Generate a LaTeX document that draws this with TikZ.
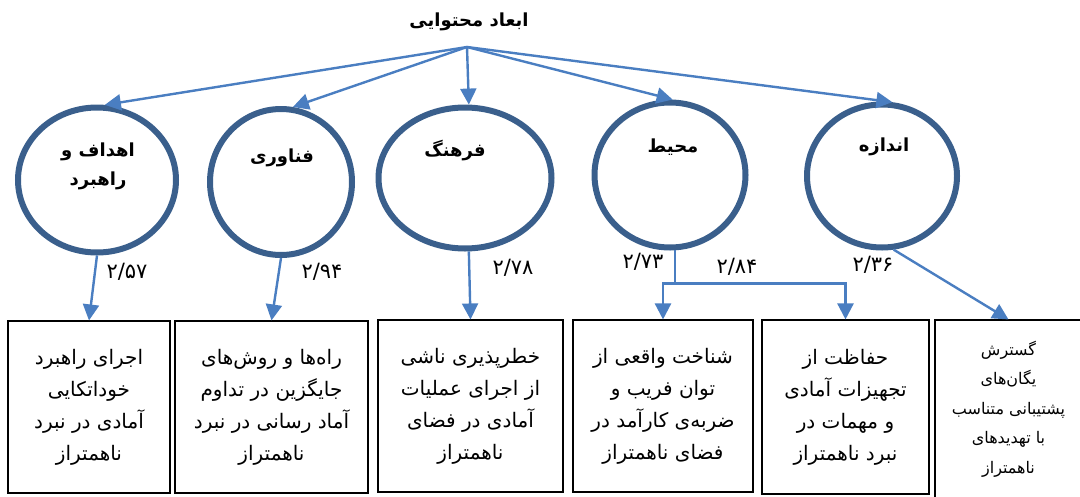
\documentclass[tikz,border=0pt]{standalone}
\usepackage{fontspec}
\newfontfamily\arabicfont[Script=Arabic]{DejaVu Sans}
\TeXXeTstate=1
\newcommand{\fa}[1]{\beginR #1\endR}
\usetikzlibrary{arrows.meta, shapes.geometric}
\definecolor{ringblue}{RGB}{58,95,140}
\definecolor{linkblue}{RGB}{74,126,193}

\begin{document}
\begin{tikzpicture}[x=1pt,y=-1pt,
    ring/.style={ellipse, draw=ringblue, line width=6pt, minimum height=145pt, inner sep=0pt},
    ringtext/.style={font=\arabicfont\bfseries\fontsize{18}{29}\selectfont, align=center},
    boxtext/.style={draw, line width=1.1pt, minimum height=172pt, inner sep=0pt, align=center,
        font=\arabicfont\fontsize{20}{32}\selectfont},
    value/.style={font=\arabicfont\fontsize{21}{22}\selectfont},
    line/.style={draw=linkblue, line width=2.4pt},
    link/.style={line, -{Triangle[length=16pt,width=16pt]}}]
    \useasboundingbox (0,0) rectangle (1080,496);
    % title
    \node[ringtext] (ttl) at (469,22) {\fa{ابعاد محتوایی}};
    \coordinate (hub) at (467,47);
    % circles
    \node[ring, minimum width=158pt] (c1) at (97,180) {};
    \node[ring, minimum width=142pt, minimum height=146pt] (c2) at (281,182) {};
    \node[ring, minimum width=173pt, minimum height=141pt] (c3) at (465,178) {};
    \node[ring, minimum width=151pt] (c4) at (670,175) {};
    \node[ring, minimum width=150pt, minimum height=143pt] (c5) at (882,176) {};
    \node[ringtext] (t1) at (98,166) {\fa{اهداف و}\\\fa{راهبرد}};
    \node[ringtext] (t2) at (282,158) {\fa{فناوری}};
    \node[ringtext] (t3) at (455,151) {\fa{فرهنگ}};
    \node[ringtext] (t4) at (673,147) {\fa{محیط}};
    \node[ringtext] (t5) at (884,147) {\fa{اندازه}};
    % boxes
    \node[boxtext, minimum width=162pt] (b1) at (89,407)
        {\fa{اجرای راهبرد}\\\fa{خوداتکایی}\\\fa{آمادی در نبرد}\\\fa{ناهمتراز}};
    \node[boxtext, minimum width=193pt] (b2) at (271.5,407)
        {\fa{راه‌ها و روش‌های}\\\fa{جایگزین در تداوم}\\\fa{آماد رسانی در نبرد}\\\fa{ناهمتراز}};
    \node[boxtext, minimum width=185pt] (b3) at (470.5,406)
        {\fa{خطرپذیری ناشی}\\\fa{از اجرای عملیات}\\\fa{آمادی در فضای}\\\fa{ناهمتراز}};
    \node[boxtext, minimum width=180pt] (b4) at (663,406)
        {\fa{شناخت واقعی از}\\\fa{توان فریب و}\\\fa{ضربه‌ی کارآمد در}\\\fa{فضای ناهمتراز}};
    \node[boxtext, minimum width=167pt, minimum height=174pt] (b5) at (845.5,407)
        {\fa{حفاظت از}\\\fa{تجهیزات آمادی}\\\fa{و مهمات در}\\\fa{نبرد ناهمتراز}};
    \node[boxtext, minimum width=147pt, minimum height=178pt,
        font=\arabicfont\fontsize{16}{29.5}\selectfont] (b6) at (1008.5,409)
        {\fa{گسترش}\\\fa{یگان‌های}\\\fa{پشتیبانی متناسب}\\\fa{با تهدیدهای}\\\fa{ناهمتراز}};
    % top arrows
    \draw[link] (hub) -- (c1.84);
    \draw[link] (hub) -- (c2.81);
    \draw[link] (hub) -- (c3.87);
    \draw[link] (hub) -- (c4.88);
    \draw[link] (hub) -- (c5.82);
    % lower arrows
    \draw[link] (c1.south) -- (b1.north);
    \draw[link] (c2.south) -- (b2.north);
    \draw[link] (c3.-87) -- (b3.north);
    \coordinate (fork) at ([yshift=-33pt]c4.-86);
    \draw[line] (c4.-86) -- (fork);
    \draw[link] (fork) -| (b4.north);
    \draw[link] (fork) -| (b5.north);
    \draw[link] (c5.-81) -- (b6.north);
    % values
    \node[value] (v1) at (127,272) {۲/۵۷};
    \node[value] (v2) at (322,272) {۲/۹۴};
    \node[value] (v3) at (513,268) {۲/۷۸};
    \node[value] (v4) at (643,262) {۲/۷۳};
    \node[value] (v5) at (737,267) {۲/۸۴};
    \node[value] (v6) at (873,265) {۲/۳۶};
\end{tikzpicture}
\end{document}
